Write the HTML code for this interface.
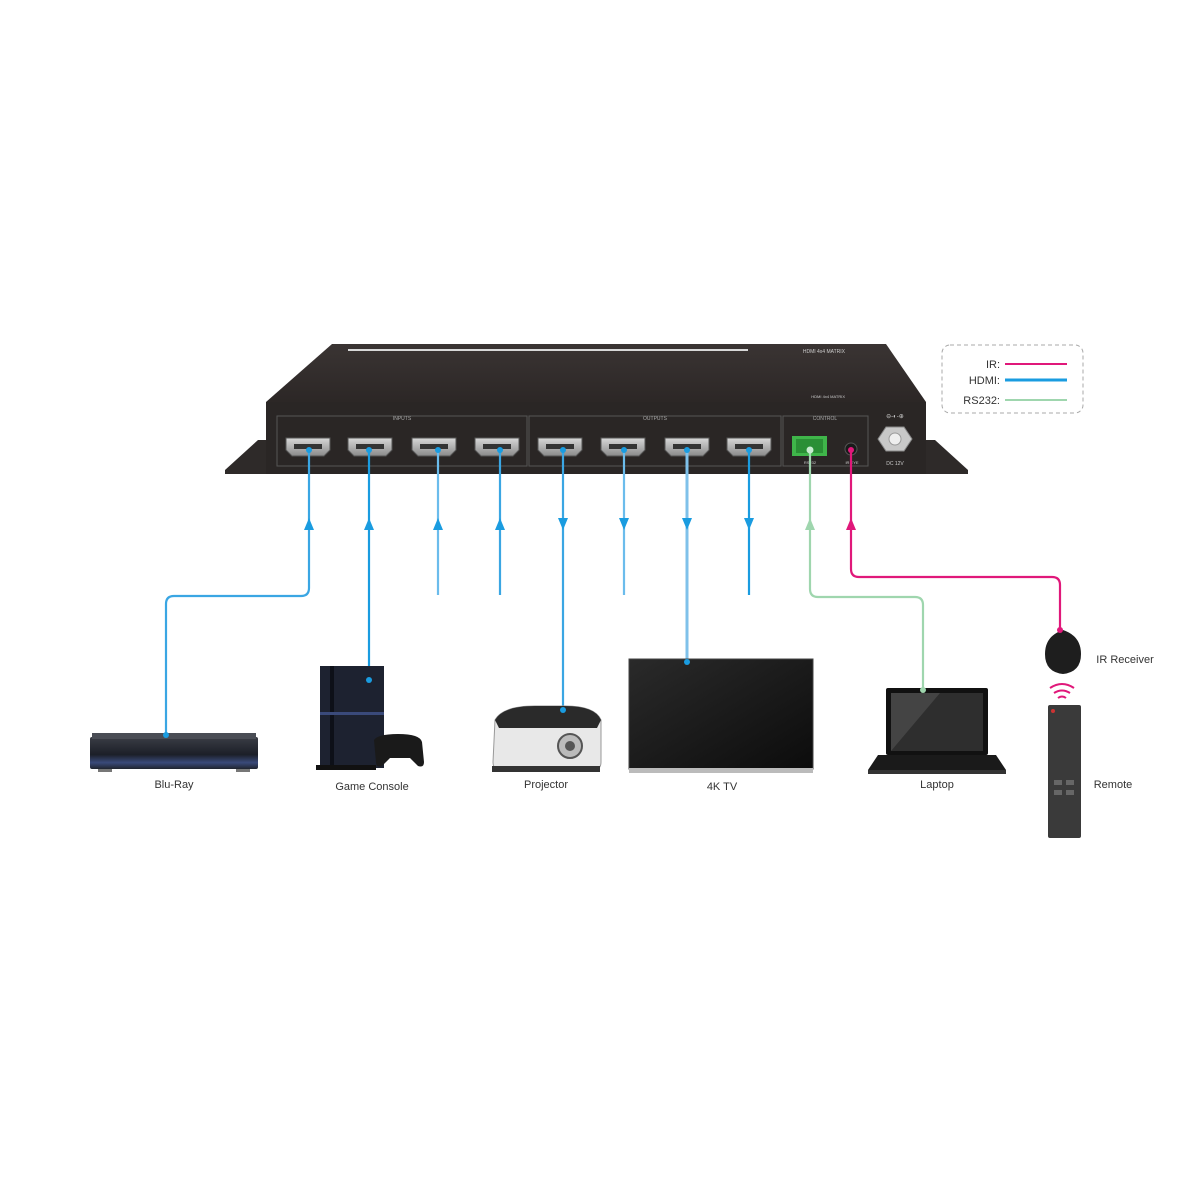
<!DOCTYPE html>
<html><head><meta charset="utf-8"><style>
html,body{margin:0;padding:0;background:#fff;}
svg{display:block}
text{font-family:"Liberation Sans",sans-serif;}
</style></head><body>
<svg width="1200" height="1200" viewBox="0 0 1200 1200" xmlns="http://www.w3.org/2000/svg">
<defs>
<linearGradient id="top" x1="0" y1="0" x2="0" y2="1"><stop offset="0" stop-color="#3a3433"/><stop offset="1" stop-color="#2c2726"/></linearGradient>
<linearGradient id="port" x1="0" y1="0" x2="0" y2="1"><stop offset="0" stop-color="#d8d8d8"/><stop offset="1" stop-color="#8a8a8a"/></linearGradient>
<linearGradient id="tv" x1="0" y1="0" x2="1" y2="1"><stop offset="0" stop-color="#2a2a2a"/><stop offset="1" stop-color="#0c0c0c"/></linearGradient>
<linearGradient id="br" x1="0" y1="0" x2="0" y2="1"><stop offset="0" stop-color="#3a3d45"/><stop offset="0.55" stop-color="#1c1f28"/><stop offset="0.8" stop-color="#3a4a7a"/><stop offset="1" stop-color="#20242e"/></linearGradient>
</defs>
<!-- brackets -->
<polygon points="225,470 258,440 268,440 268,474 225,474" fill="#2e2a29"/>
<polygon points="968,470 935,440 925,440 925,474 968,474" fill="#2e2a29"/>
<!-- top face -->
<polygon points="332,344 886,344 926,402 266,402" fill="url(#top)"/>
<rect x="348" y="349" width="400" height="2" fill="#d8d8d8"/>
<text x="845" y="353" font-size="5" fill="#ccc" text-anchor="end">HDMI 4x4 MATRIX</text>
<text x="845" y="398" font-size="4" fill="#ccc" text-anchor="end">HDMI 4x4 MATRIX</text>
<!-- front -->
<rect x="266" y="402" width="660" height="72" fill="#2a2625"/>
<rect x="277" y="416" width="250" height="50" fill="none" stroke="#555" stroke-width="1"/>
<rect x="529" y="416" width="252" height="50" fill="none" stroke="#555" stroke-width="1"/>
<rect x="783" y="416" width="85" height="50" fill="none" stroke="#555" stroke-width="1"/>
<text x="402" y="420" font-size="5" fill="#aaa" text-anchor="middle">INPUTS</text>
<text x="655" y="420" font-size="5" fill="#aaa" text-anchor="middle">OUTPUTS</text>
<text x="825" y="420" font-size="5" fill="#aaa" text-anchor="middle">CONTROL</text>
<g fill="url(#port)" stroke="#555" stroke-width="1">
<path d="M286,438 h44 v12 l-6,6 h-32 l-6,-6z"/>
<path d="M348,438 h44 v12 l-6,6 h-32 l-6,-6z"/>
<path d="M412,438 h44 v12 l-6,6 h-32 l-6,-6z"/>
<path d="M475,438 h44 v12 l-6,6 h-32 l-6,-6z"/>
<path d="M538,438 h44 v12 l-6,6 h-32 l-6,-6z"/>
<path d="M601,438 h44 v12 l-6,6 h-32 l-6,-6z"/>
<path d="M665,438 h44 v12 l-6,6 h-32 l-6,-6z"/>
<path d="M727,438 h44 v12 l-6,6 h-32 l-6,-6z"/>
</g>
<g fill="#333"><rect x="294" y="444" width="28" height="5"/><rect x="356" y="444" width="28" height="5"/><rect x="420" y="444" width="28" height="5"/><rect x="483" y="444" width="28" height="5"/><rect x="546" y="444" width="28" height="5"/><rect x="609" y="444" width="28" height="5"/><rect x="673" y="444" width="28" height="5"/><rect x="735" y="444" width="28" height="5"/></g>
<rect x="792" y="436" width="35" height="20" fill="#3fb54a"/>
<rect x="796" y="439" width="27" height="14" fill="#2a8f35"/>
<circle cx="851" cy="449" r="6" fill="#1a1a1a" stroke="#555"/>
<polygon points="886,427 904,427 912,439 904,451 886,451 878,439" fill="#c8c8c8" stroke="#888"/>
<circle cx="895" cy="439" r="6" fill="#eee" stroke="#999"/>
<text x="895" y="418" font-size="6" fill="#ccc" text-anchor="middle">⊖-◐-⊕</text>
<text x="895" y="465" font-size="5" fill="#ccc" text-anchor="middle">DC 12V</text>
<text x="810" y="464" font-size="4" fill="#ccc" text-anchor="middle">RS232</text>
<text x="852" y="464" font-size="4" fill="#ccc" text-anchor="middle">IR EYE</text>

<!-- legend -->
<rect x="942" y="345" width="141" height="68" rx="8" fill="none" stroke="#aaa" stroke-dasharray="4,3"/>
<text x="1000" y="368" font-size="11" fill="#333" text-anchor="end">IR:</text>
<text x="1000" y="384" font-size="11" fill="#333" text-anchor="end">HDMI:</text>
<text x="1000" y="404" font-size="11" fill="#333" text-anchor="end">RS232:</text>
<line x1="1005" y1="364" x2="1067" y2="364" stroke="#e0187a" stroke-width="2"/>
<line x1="1005" y1="380" x2="1067" y2="380" stroke="#1a9ce0" stroke-width="3"/>
<line x1="1005" y1="400" x2="1067" y2="400" stroke="#9fd6ae" stroke-width="2"/>

<!-- connectors -->
<g fill="none" stroke-width="2.2">
<path d="M166,735 V604 q0,-8 8,-8 H301 q8,0 8,-8 V450" stroke="#3aa6e3"/>
<path d="M369,680 V450" stroke="#1a9ce0"/>
<path d="M438,595 V450" stroke="#6bbcec"/>
<path d="M500,595 V450" stroke="#3aa6e3"/>
<path d="M563,710 V450" stroke="#3aa6e3"/>
<path d="M624,595 V450" stroke="#6bbcec"/>
<path d="M687,662 V450" stroke="#7fc1ea" stroke-width="3"/>
<path d="M749,595 V450" stroke="#1a9ce0"/>
<path d="M810,450 V589 q0,8 8,8 H915 q8,0 8,8 V690" stroke="#9fd6ae"/>
<path d="M851,450 V569 q0,8 8,8 H1052 q8,0 8,8 V630" stroke="#e0187a"/>
</g>
<g fill="#1a9ce0">
<polygon points="309,518 304,530 314,530"/>
<polygon points="369,518 364,530 374,530"/>
<polygon points="438,518 433,530 443,530"/>
<polygon points="500,518 495,530 505,530"/>
<polygon points="563,530 558,518 568,518"/>
<polygon points="624,530 619,518 629,518"/>
<polygon points="687,530 682,518 692,518"/>
<polygon points="749,530 744,518 754,518"/>
</g>
<polygon points="810,518 805,530 815,530" fill="#9fd6ae"/>
<polygon points="851,518 846,530 856,530" fill="#e0187a"/>
<g>
<circle cx="309" cy="450" r="3" fill="#1a9ce0"/><circle cx="369" cy="450" r="3" fill="#1a9ce0"/><circle cx="438" cy="450" r="3" fill="#1a9ce0"/><circle cx="500" cy="450" r="3" fill="#1a9ce0"/><circle cx="563" cy="450" r="3" fill="#1a9ce0"/><circle cx="624" cy="450" r="3" fill="#1a9ce0"/><circle cx="687" cy="450" r="3" fill="#1a9ce0"/><circle cx="749" cy="450" r="3" fill="#1a9ce0"/>
<circle cx="810" cy="450" r="3.5" fill="#c8ecd0"/><circle cx="851" cy="450" r="3" fill="#e0187a"/>
</g>

<!-- Blu-ray -->
<rect x="90" y="737" width="168" height="32" rx="2" fill="url(#br)"/>
<rect x="92" y="733" width="164" height="6" fill="#4a4d55"/>
<rect x="98" y="769" width="14" height="3" fill="#777"/><rect x="236" y="769" width="14" height="3" fill="#777"/>
<circle cx="166" cy="735" r="3" fill="#1a9ce0"/>
<!-- Game console -->
<rect x="320" y="666" width="64" height="102" fill="#1d2230"/>
<rect x="330" y="666" width="4" height="102" fill="#0d1018"/>
<rect x="320" y="712" width="64" height="3" fill="#3a4a7a"/>
<rect x="316" y="765" width="60" height="5" fill="#111"/>
<path d="M374,740 q4,-6 24,-6 q22,0 24,8 l2,20 q0,6 -6,4 l-8,-8 h-20 l-8,8 q-6,2 -6,-4z" fill="#1a1a1a"/>
<circle cx="369" cy="680" r="3" fill="#1a9ce0"/>
<!-- Projector -->
<path d="M495,720 q8,-14 40,-14 h30 q30,0 36,14 v42 q0,8 -8,8 h-92 q-8,0 -8,-8z" fill="#e8e8e8" stroke="#999"/>
<path d="M495,720 q8,-14 40,-14 h30 q30,0 36,14 l-4,8 h-98z" fill="#2a2a2a"/>
<circle cx="570" cy="746" r="12" fill="#bbb" stroke="#555" stroke-width="2"/>
<circle cx="570" cy="746" r="5" fill="#555"/>
<rect x="492" y="766" width="108" height="6" fill="#333"/>
<circle cx="563" cy="710" r="3" fill="#1a9ce0"/>
<!-- TV -->
<rect x="629" y="659" width="184" height="110" fill="url(#tv)" stroke="#444"/>
<rect x="629" y="768" width="184" height="5" fill="#bbb"/>
<circle cx="687" cy="662" r="3" fill="#1a9ce0"/>
<!-- Laptop -->
<rect x="886" y="688" width="102" height="67" rx="2" fill="#111"/>
<rect x="891" y="693" width="92" height="58" fill="#2e2e2e"/>
<polygon points="891,751 891,693 940,693" fill="#444"/>
<polygon points="878,755 996,755 1006,770 868,770" fill="#1a1a1a"/>
<rect x="868" y="770" width="138" height="4" fill="#333"/>
<circle cx="923" cy="690" r="3" fill="#9fd6ae"/>
<!-- IR receiver -->
<path d="M1063,630 q18,6 18,24 q0,18 -18,20 q-18,-2 -18,-20 q0,-18 18,-24z" fill="#1e1e1e"/>
<circle cx="1060" cy="630" r="3" fill="#e0187a"/>
<g fill="none" stroke="#e0187a" stroke-width="2">
<path d="M1050,688 q12,-8 24,0"/><path d="M1054,693 q8,-5 16,0"/><path d="M1058,698 q4,-3 8,0"/>
</g>
<rect x="1048" y="705" width="33" height="133" rx="2" fill="#3a3a3a"/>
<circle cx="1053" cy="711" r="2" fill="#c33"/>
<g fill="#666"><rect x="1054" y="780" width="8" height="5"/><rect x="1066" y="780" width="8" height="5"/><rect x="1054" y="790" width="8" height="5"/><rect x="1066" y="790" width="8" height="5"/></g>

<!-- labels -->
<g font-size="11" fill="#333" text-anchor="middle">
<text x="174" y="788">Blu-Ray</text>
<text x="372" y="790">Game Console</text>
<text x="546" y="788">Projector</text>
<text x="722" y="790">4K TV</text>
<text x="937" y="788">Laptop</text>
<text x="1125" y="663">IR Receiver</text>
<text x="1113" y="788">Remote</text>
</g>
</svg>
</body></html>
